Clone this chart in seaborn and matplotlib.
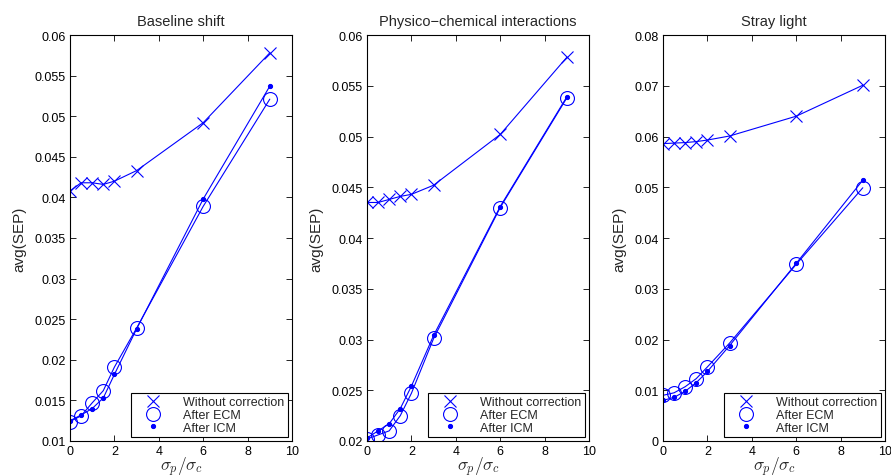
import numpy as np
import pandas as pd
import matplotlib
matplotlib.use('Agg')
import matplotlib.pyplot as plt
import seaborn as sns

# ============================================================
# data
# ============================================================
ratio = [0, 0.5, 1, 1.5, 2, 3, 6, 9]

titles = ['Baseline shift', 'Physico\u2212chemical interactions', 'Stray light']

baseline_none = [0.0408, 0.0418, 0.0418, 0.0416, 0.0420, 0.0433, 0.0492, 0.0578]
baseline_ecm = [0.0124, 0.0131, 0.0147, 0.0162, 0.0191, 0.0239, 0.0389, 0.0521]
baseline_icm = [0.0125, 0.0132, 0.0140, 0.0153, 0.0182, 0.0238, 0.0398, 0.0537]

physchem_none = [0.0435, 0.0435, 0.0438, 0.0441, 0.0443, 0.0452, 0.0502, 0.0578]
physchem_ecm = [0.0202, 0.0206, 0.0210, 0.0225, 0.0247, 0.0301, 0.0430, 0.0538]
physchem_icm = [0.0203, 0.0210, 0.0217, 0.0232, 0.0254, 0.0304, 0.0431, 0.0539]

stray_none = [0.0586, 0.0587, 0.0588, 0.0590, 0.0593, 0.0601, 0.0640, 0.0701]
stray_ecm = [0.0090, 0.0095, 0.0107, 0.0123, 0.0146, 0.0193, 0.0348, 0.0499]
stray_icm = [0.0080, 0.0086, 0.0098, 0.0115, 0.0137, 0.0188, 0.0350, 0.0514]

ylims = [(0.01, 0.06), (0.02, 0.06), (0.0, 0.08)]
yticks = [
    [0.01, 0.015, 0.02, 0.025, 0.03, 0.035, 0.04, 0.045, 0.05, 0.055, 0.06],
    [0.02, 0.025, 0.03, 0.035, 0.04, 0.045, 0.05, 0.055, 0.06],
    [0, 0.01, 0.02, 0.03, 0.04, 0.05, 0.06, 0.07, 0.08],
]
xticks = [0, 2, 4, 6, 8, 10]

panels = [
    (baseline_none, baseline_ecm, baseline_icm),
    (physchem_none, physchem_ecm, physchem_icm),
    (stray_none, stray_ecm, stray_icm),
]

# ============================================================
# style
# ============================================================
sns.set_style('ticks')
plt.rcParams['font.family'] = ['Liberation Sans', 'DejaVu Sans']
plt.rcParams['mathtext.fontset'] = 'cm'
plt.rcParams['xtick.direction'] = 'in'
plt.rcParams['ytick.direction'] = 'in'
plt.rcParams['xtick.top'] = True
plt.rcParams['ytick.right'] = True
plt.rcParams['axes.edgecolor'] = 'black'
plt.rcParams['axes.linewidth'] = 0.8

BLUE = '#0000FF'

fig = plt.figure(figsize=(8.91, 4.77), dpi=100)
lefts = [70, 367, 663]
W, H = 891, 477
for i, (vals, title) in enumerate(zip(panels, titles)):
    ax = fig.add_axes([lefts[i] / W, 1 - 442 / H, 222 / W, 406 / H])
    none, ecm, icm = vals
    df = pd.DataFrame({'ratio': ratio, 'none': none, 'ecm': ecm, 'icm': icm})
    sns.lineplot(data=df, x='ratio', y='none', ax=ax, color=BLUE, lw=0.8,
                 marker='x', markersize=9, markeredgecolor=BLUE,
                 markeredgewidth=0.8, sort=False, label='Without correction')
    sns.lineplot(data=df, x='ratio', y='ecm', ax=ax, color=BLUE, lw=0.8,
                 marker='o', markersize=10, markerfacecolor='none',
                 markeredgecolor=BLUE, markeredgewidth=0.8, sort=False,
                 label='After ECM')
    sns.lineplot(data=df, x='ratio', y='icm', ax=ax, color=BLUE, lw=0.8,
                 marker='.', markersize=6, markeredgecolor=BLUE, sort=False,
                 label='After ICM')
    ax.set_xlim(0, 10)
    ax.set_ylim(*ylims[i])
    ax.set_xticks(xticks)
    ax.set_yticks(yticks[i])
    ax.set_yticklabels([f'{t:g}' for t in yticks[i]])
    ax.tick_params(labelsize=9, length=4, width=0.6, colors='black', pad=3)
    ax.set_title(title, fontsize=10.5, pad=7)
    ax.set_xlabel(r'$\sigma_p/\sigma_c$', fontsize=12.5, labelpad=-2)
    ax.set_ylabel('avg(SEP)', fontsize=11, labelpad=6)
    leg = ax.legend(loc='lower right', fontsize=9, frameon=True, fancybox=False,
                    edgecolor='black', framealpha=1, handlelength=3.0,
                    handletextpad=0.9, borderpad=0.25, labelspacing=0.05,
                    borderaxespad=0.35)
    leg.get_frame().set_linewidth(0.8)
    for h in leg.get_lines():
        h.set_linestyle('none')

plt.savefig('out.png', dpi=100)
plt.close()
